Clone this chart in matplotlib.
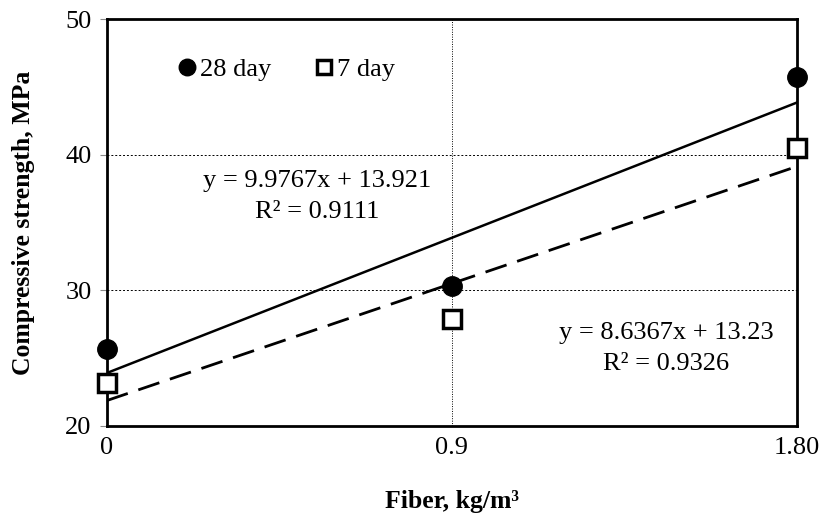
import matplotlib
matplotlib.use("Agg")
import matplotlib.pyplot as plt
import numpy as np

plt.rcParams['font.family'] = ['Liberation Serif', 'DejaVu Serif']

categories = ["0", "0.9", "1.80"]
day28 = [25.7, 30.3, 45.7]
day7 = [23.2, 27.9, 40.5]
fit28 = (9.9767, 13.921)
fit7 = (8.6367, 13.23)
eq28 = "y = 9.9767x + 13.921\nR² = 0.9111"
eq7 = "y = 8.6367x + 13.23\nR² = 0.9326"

x = np.arange(1, len(categories) + 1)

fig = plt.figure(figsize=(8.21, 5.15), dpi=100)
ax = fig.add_axes([0.130, 0.173, 0.841, 0.790])

ax.set_xlim(1, 3)
ax.set_ylim(20, 50)
ax.set_yticks([20, 30, 40, 50])
ax.set_xticks(x)
ax.set_xticklabels(categories)

ax.grid(True, which='major', axis='y', color='black', linestyle=(0, (2, 2)), linewidth=0.7)
ax.grid(True, which='major', axis='x', color='black', linestyle=(0, (1, 1.5)), linewidth=0.7)
ax.set_axisbelow(True)

xs = np.array([1, 3])
ax.plot(xs, fit28[0] * xs + fit28[1], color='black', lw=1.8, zorder=3)
ax.plot(xs, fit7[0] * xs + fit7[1], color='black', lw=2.0, linestyle=(0, (8, 4)), zorder=3)

ax.plot(x, day28, 'o', color='black', markersize=14, clip_on=False, zorder=5, label='28 day')
ax.plot(x, day7, 's', markerfacecolor='white', markeredgecolor='black', markeredgewidth=2.5,
        markersize=12.5, clip_on=False, zorder=5, label='7 day')

for s in ax.spines.values():
    s.set_linewidth(2.0)
    s.set_color('black')

ax.tick_params(axis='y', direction='out', length=5, color='#888888', labelsize=19, pad=6)
ax.tick_params(axis='x', length=0, labelsize=19, pad=8)

ax.set_xlabel("Fiber, kg/m³", fontsize=18.5, fontweight='bold', labelpad=22)
ax.set_ylabel("Compressive strength, MPa", fontsize=18.5, fontweight='bold', labelpad=22)

ax.legend(loc='center left', bbox_to_anchor=(0.097, 0.877), ncol=2, frameon=False, fontsize=19,
          handletextpad=0.0, columnspacing=1.5, handlelength=1.0, markerscale=0.85,
          borderpad=0, borderaxespad=0)

ax.text(1.61, 36.9, eq28, ha='center', va='center', fontsize=19, linespacing=1.5)
ax.text(2.62, 25.7, eq7, ha='center', va='center', fontsize=19, linespacing=1.5)

fig.savefig("out.png", dpi=100)
